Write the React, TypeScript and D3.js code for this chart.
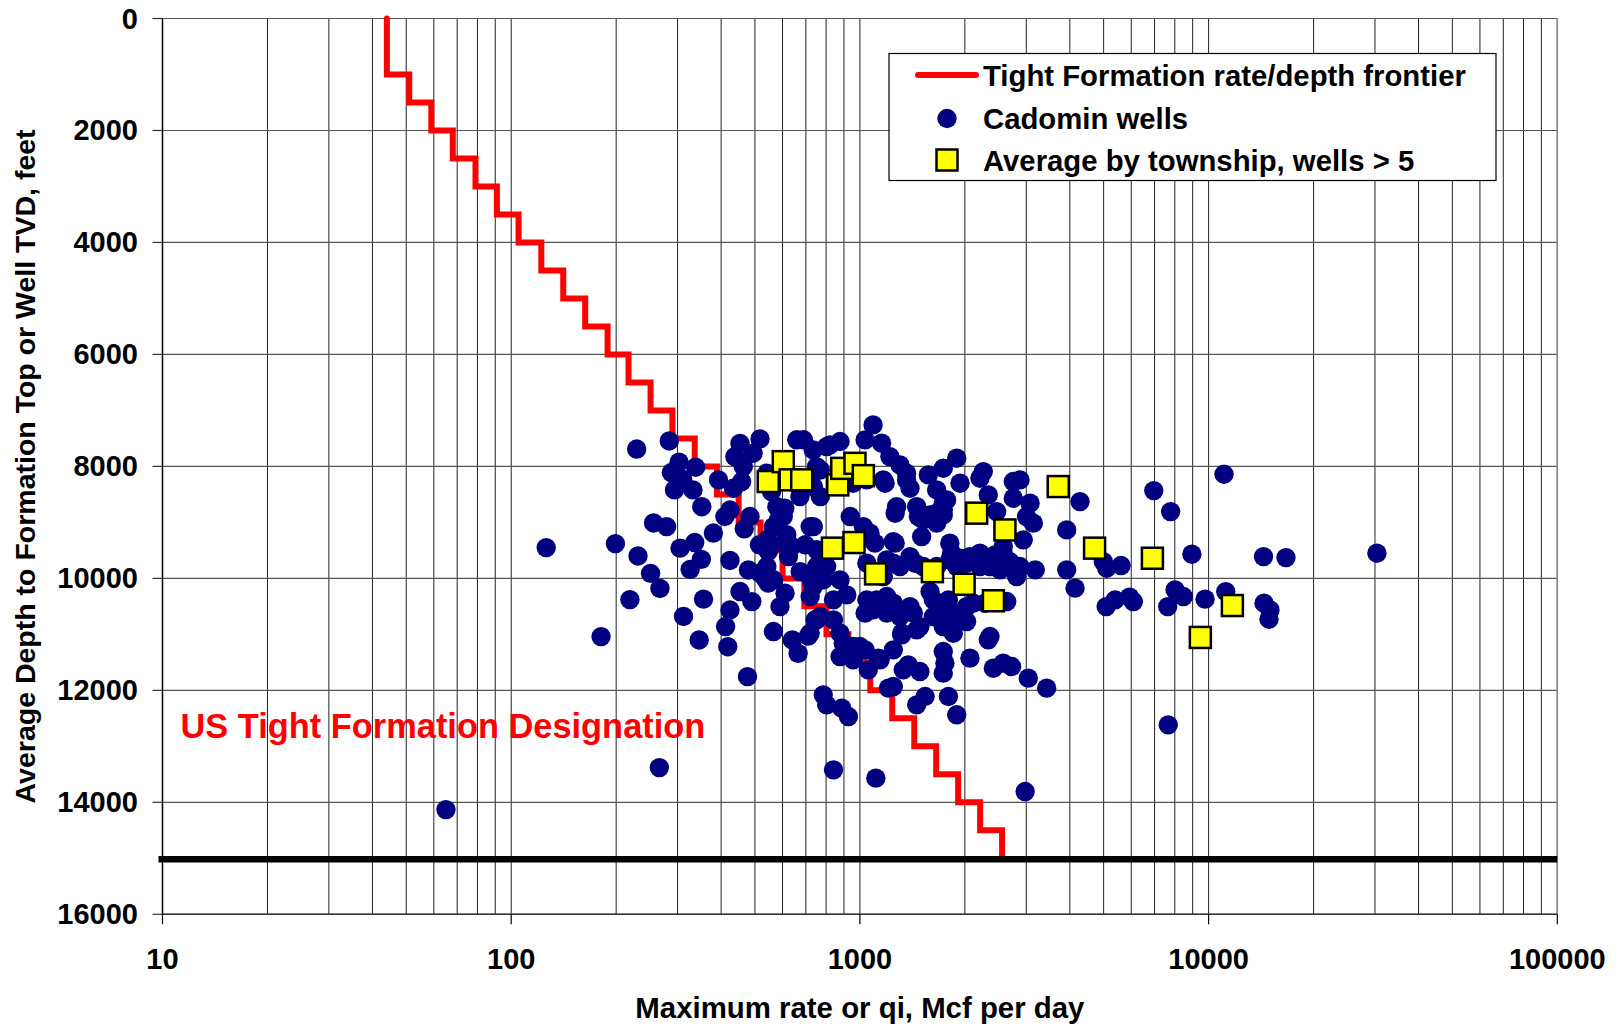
import React from 'react';
import * as d3 from 'd3';

const W = 1617;
const H = 1026;

const yTickValues = [0, 2000, 4000, 6000, 8000, 10000, 12000, 14000, 16000];
const xTickValues = [10, 100, 1000, 10000, 100000];
const xTickLabels = ['10', '100', '1000', '10000', '100000'];

// US tight formation max-rate by depth (step frontier)
const frontierDepthTop = [0, 1000, 1500, 2000, 2500, 3000, 3500, 4000, 4500, 5000, 5500, 6000, 6500, 7000, 7500,
  8000, 8500, 9000, 9500, 10000, 10500, 11000, 11500, 12000, 12500, 13000, 13500, 14000, 14500];
const frontierRate = [44, 51, 59, 68, 79, 91, 105, 122, 141, 163, 189, 217, 251, 290, 336,
  389, 449, 519, 600, 693, 802, 927, 1071, 1238, 1432, 1655, 1913, 2212, 2557];
const frontierBottom = 15000;
const designationDepth = 15000;

// Cadomin wells: [max rate Mcf/d, depth ft]
const cadominWells: [number, number][] = [
  [65, 14130], [126, 9450], [181, 11040], [199, 9380], [219, 10380], [229, 7690], [231, 9600], [251, 9910], [267, 10180],
  [256, 9010], [279, 9075], [284, 7545], [303, 7925], [288, 8110], [338, 8015], [310, 8230], [294, 8420], [332, 8420],
  [352, 8720], [305, 9460], [336, 9360], [351, 9660], [326, 9840], [266, 13380], [312, 10680], [346, 11100], [356, 10370], [380, 9190],
  [393, 8240], [434, 8390], [458, 8270], [453, 7590], [517, 7510], [438, 7825], [494, 7765], [463, 8005], [424, 8780], [410, 8895],
  [484, 8895], [466, 9115], [424, 9680], [479, 9850], [515, 9400], [541, 9310], [541, 9790], [546, 10085], [453, 10235], [490, 10415],
  [424, 10565], [412, 10860], [418, 11220], [476, 11755], [565, 10950], [590, 10505], [610, 10265], [674, 9880], [624, 9610], [617, 9220],
  [697, 9400], [603, 8895], [609, 8745], [720, 9075], [744, 10740], [727, 10055], [659, 7525], [689, 7525], [558, 8450], [578, 8720],
  [584, 8955], [751, 9490], [535, 10000], [720, 10325], [541, 8120], [565, 9075], [546, 9520], [603, 9370], [517, 9905], [565, 10025],
  [637, 9430], [673, 8540], [640, 11100], [711, 11030], [665, 11340], [735, 7705], [820, 7615], [877, 7555], [751, 8005],
  [803, 7646], [1035, 7527], [1091, 7259], [1154, 7586], [1219, 7825], [1303, 7973], [1361, 8122], [1392, 8390], [1181, 8300],
  [770, 8063], [735, 8360], [770, 8539], [938, 8896], [735, 9075], [1274, 8718], [1262, 8836], [1455, 8718], [1472, 8896],
  [1571, 8152], [1734, 8033], [1895, 7854], [1660, 8420], [1773, 8598], [1937, 8300], [1660, 8836], [1734, 8777], [1660, 9014],
  [1520, 8955], [1503, 9254], [1247, 9343], [1104, 9371], [1023, 9075], [1811, 9371], [1832, 9550], [1937, 9639], [2068, 9611],
  [2209, 9550], [2259, 8093], [2209, 8211], [2334, 8509], [2467, 8807], [2878, 8241], [2754, 8568], [3076, 8657], [3143, 9014],
  [3005, 8896], [2941, 9312], [2577, 9550], [2692, 9700], [2523, 9848], [3184, 9848], [2816, 9968], [3918, 9848], [4140, 10175],
  [4278, 8629], [3918, 9134], [2209, 9789], [2114, 10443], [2286, 10443], [1794, 10384], [1811, 10621], [1589, 10236], [1392, 10504],
  [1423, 10621], [1486, 10861], [1318, 10979], [1247, 9729], [1303, 9789], [1392, 9611], [1439, 9729], [1194, 9670], [1117, 10384],
  [1247, 10443], [1035, 10621], [1091, 10563], [1194, 10621], [1047, 9729], [751, 9789], [785, 9848], [877, 10027], [917, 10295],
  [751, 10741], [840, 10741], [720, 10979], [877, 10979], [2361, 11039], [2023, 10771], [2637, 10414],
  [1361, 8241], [957, 8300], [1047, 8241], [1167, 8241], [1069, 9193], [1520, 9789], [1660, 9789], [1811, 9670], [1895, 9789],
  [2023, 9729], [2162, 9611], [2361, 9789], [2440, 9580], [2577, 9432], [2878, 9789], [2754, 9848], [1624, 10384], [1167, 9968],
  [1194, 10325], [1047, 10384], [1303, 10682], [1624, 10682], [1773, 10563], [1853, 10682], [1455, 10920], [1734, 10861],
  [1853, 10979], [1895, 10621], [2023, 10504], [1486, 8866], [1588, 8866], [1734, 8866], [1734, 8657], [2754, 8271], [1262, 9371],
  [770, 9670], [803, 9789], [785, 10027], [840, 10384], [770, 10682], [735, 10146],
  [896, 11157], [957, 11218], [1035, 11277], [1130, 11425], [906, 11336], [1057, 11634], [1207, 11961], [1247, 11932], [1331, 11634],
  [1376, 11545], [1486, 11664], [1318, 11009], [1734, 11307], [1753, 11514], [1734, 11693], [2068, 11425], [2334, 11098],
  [2414, 11604], [2577, 11514], [2723, 11575], [3040, 11782], [3432, 11961], [785, 12080], [803, 12259], [887, 12318], [927, 12468],
  [1455, 12259], [1538, 12110], [1794, 12110], [1895, 12437], [840, 13420], [1111, 13568], [2978, 13807], [1000, 11218],
  [1143, 11455], [1247, 11277], [877, 11396], [957, 11455],
  [11070, 8140], [6963, 8432], [7782, 8807], [4989, 9700], [5103, 9818], [5610, 9771], [8954, 9568], [14370, 9611], [16670, 9629],
  [30390, 9550], [5085, 10504], [5395, 10384], [5932, 10336], [6085, 10414], [7634, 10504], [8013, 10205], [8462, 10325],
  [9770, 10371], [11200, 10236], [14420, 10443], [15000, 10563], [14900, 10729], [7660, 12616],
];

// Average by township (wells > 5): [rate, depth]
const townshipAverages: [number, number][] = [
  [546, 8270], [603, 7915], [631, 8240], [681, 8240], [864, 8330], [887, 8035], [968, 7945], [1023, 8165],
  [834, 9460], [962, 9360], [1109, 9920], [1614, 9880], [1990, 10105], [2415, 10400], [2162, 8835], [2606, 9135],
  [3705, 8360], [4710, 9460], [6900, 9640], [11700, 10485], [9470, 11055],
];

const legendLabels = ['Tight Formation rate/depth frontier', 'Cadomin wells', 'Average by township, wells > 5'];

const FONT = '"Liberation Sans", Arial, Helvetica, sans-serif';

export default function App() {
  const x = d3.scaleLog().domain([10, 100000]).range([162.5, 1557.3]);
  const y = d3.scaleLinear().domain([0, 16000]).range([18.5, 914.3]);
  const [x0, x1] = x.range();
  const [y0, y1] = y.range();

  const gridX = x.ticks();
  const frontierPts: [number, number][] = frontierRate.map((r, i) => [r, frontierDepthTop[i]]);
  frontierPts.push([frontierRate[frontierRate.length - 1], frontierBottom]);
  const frontierPath = d3.line<[number, number]>()
    .x(d => x(d[0]))
    .y(d => y(d[1]))
    .curve(d3.curveStepBefore)(frontierPts) || '';

  const sq = 21;
  const lg = { x: 889, y: 53.5, w: 607, h: 127 };
  const rowY = [75, 118.5, 160];

  return (
    <svg width={W} height={H} style={{ position: 'absolute', left: 0, top: 0, display: 'block', background: '#fff' }}
      fontFamily={FONT} fontWeight="bold">
      <rect x={0} y={0} width={W} height={H} fill="#fff" />
      {/* grid */}
      {gridX.map((v, i) => (
        <line key={'gx' + i} x1={x(v)} x2={x(v)} y1={y0} y2={y1} stroke="#222" strokeWidth={1} />
      ))}
      {yTickValues.map((v, i) => (
        <line key={'gy' + i} x1={x0} x2={x1} y1={y(v)} y2={y(v)} stroke="#555" strokeWidth={1.2} />
      ))}
      {/* frame */}
      <line x1={x1} x2={x1} y1={y0} y2={y1} stroke="#888" strokeWidth={1.5} />
      <line x1={x0} x2={x0} y1={y0} y2={y1} stroke="#000" strokeWidth={1.5} />
      <line x1={x0} x2={x1} y1={y1} y2={y1} stroke="#333" strokeWidth={1.5} />
      {/* ticks */}
      {yTickValues.map((v, i) => (
        <line key={'ty' + i} x1={x0 - 10} x2={x0} y1={y(v)} y2={y(v)} stroke="#333" strokeWidth={1.2} />
      ))}
      {xTickValues.map((v, i) => (
        <line key={'tx' + i} x1={x(v)} x2={x(v)} y1={y1} y2={y1 + 10} stroke="#000" strokeWidth={1.2} />
      ))}
      {/* tick labels */}
      {yTickValues.map((v, i) => (
        <text key={'ly' + i} x={138} y={y(v) + 10} textAnchor="end" fontSize={29} fill="#000">{v}</text>
      ))}
      {xTickValues.map((v, i) => (
        <text key={'lx' + i} x={x(v)} y={969} textAnchor="middle" fontSize={29} fill="#000">{xTickLabels[i]}</text>
      ))}
      {/* axis titles */}
      <text x={(x0 + x1) / 2} y={1018} textAnchor="middle" fontSize={29.4} fill="#000">Maximum rate or qi, Mcf per day</text>
      <text transform={`translate(35,${(y0 + y1) / 2}) rotate(-90)`} textAnchor="middle" fontSize={28.5} fill="#000">
        Average Depth to Formation Top or Well TVD, feet
      </text>
      {/* frontier */}
      <path d={frontierPath} fill="none" stroke="#ff0000" strokeWidth={6} strokeLinecap="round" strokeLinejoin="miter" />
      {/* wells */}
      {cadominWells.map((d, i) => (
        <circle key={'w' + i} cx={x(d[0])} cy={y(d[1])} r={9.7} fill="#000080" />
      ))}
      {/* township averages */}
      {townshipAverages.map((d, i) => (
        <rect key={'t' + i} x={x(d[0]) - sq / 2} y={y(d[1]) - sq / 2} width={sq} height={sq}
          fill="#ffff00" stroke="#000" strokeWidth={2.5} />
      ))}
      {/* 15000 ft line */}
      <line x1={x0 - 4} x2={x1} y1={y(designationDepth) + 1} y2={y(designationDepth) + 1} stroke="#000" strokeWidth={6.5} />
      {/* annotation */}
      <text x={180.5} y={738} fontSize={34.4} fill="#ff0000">US Tight Formation Designation</text>
      {/* legend */}
      <rect x={lg.x} y={lg.y} width={lg.w} height={lg.h} fill="#fff" stroke="#000" strokeWidth={1.2} />
      <line x1={918} x2={976} y1={rowY[0]} y2={rowY[0]} stroke="#ff0000" strokeWidth={6} strokeLinecap="round" />
      <circle cx={947} cy={rowY[1]} r={9.7} fill="#000080" />
      <rect x={947 - sq / 2} y={rowY[2] - sq / 2} width={sq} height={sq} fill="#ffff00" stroke="#000" strokeWidth={2.5} />
      {legendLabels.map((t, i) => (
        <text key={'lg' + i} x={983} y={rowY[i] + 10.5} fontSize={29.3} fill="#000">{t}</text>
      ))}
    </svg>
  );
}
